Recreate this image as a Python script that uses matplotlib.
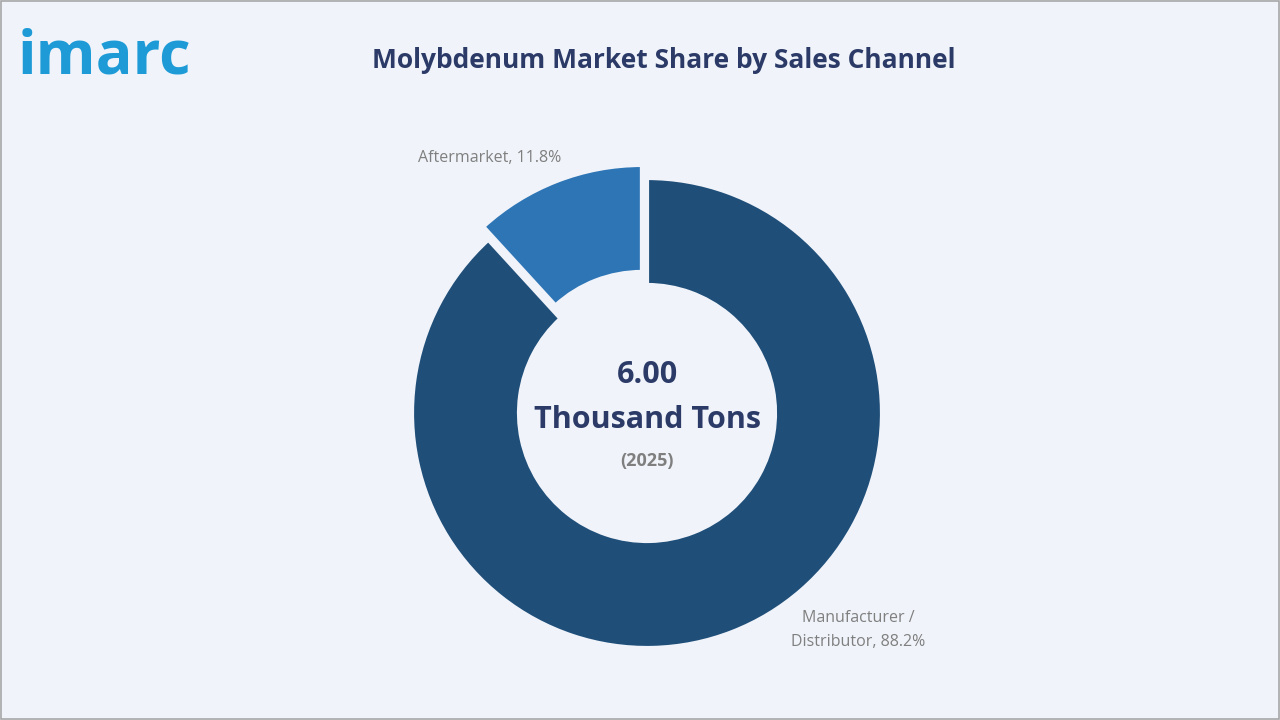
import matplotlib
matplotlib.use("Agg")
import matplotlib.pyplot as plt
from matplotlib.patches import Rectangle

channels = ["Manufacturer /\nDistributor", "Aftermarket"]
shares = [88.2, 11.8]
colors = ["#1F4E79", "#2E75B6"]
total_value = "6.00"
unit = "Thousand Tons"
year = "(2025)"

plt.rcParams["font.family"] = ["Open Sans", "DejaVu Sans"]

bg = "#F0F4FA"
fig = plt.figure(figsize=(12.8, 7.2), dpi=100)
fig.patch.set_facecolor(bg)
ax = fig.add_axes([0, 0, 1, 1])
ax.add_patch(Rectangle((1, 1), 1278, 718, fill=False, edgecolor="#A6A6A6", lw=1.2))

# pixel-space axes; explode offset is in data units (pixels here)
cx, cy = 647, 720 - 413
ax.pie(shares, colors=colors, startangle=90, counterclock=False,
       center=(cx, cy), radius=235, explode=[0, 14],
       wedgeprops=dict(width=107, edgecolor=bg, linewidth=3), frame=True)
ax.set_xlim(0, 1280)
ax.set_ylim(0, 720)
ax.set_aspect("equal")
ax.axis("off")

navy = "#2B3A67"
gray = "#7F7F7F"
ax.text(664, 720 - 60, "Molybdenum Market Share by Sales Channel", ha="center", va="center",
        fontsize=19, fontweight="bold", color=navy)
ax.text(18, 720 - 58, "imarc", ha="left", va="center", fontsize=44, fontweight="bold",
        color="#1E9BD7")

ax.text(cx, cy + 38, total_value, ha="center", va="center", fontsize=22, fontweight="bold", color=navy)
ax.text(cx, cy - 7, unit, ha="center", va="center", fontsize=22, fontweight="bold", color=navy)
ax.text(cx, cy - 48, year, ha="center", va="center", fontsize=13, fontweight="bold", color=gray)

ax.text(490, 720 - 158, f"{channels[1]}, {shares[1]}%", ha="center", va="center", fontsize=11.5, color=gray)
ax.text(858, 720 - 630, f"{channels[0]}, {shares[0]}%", ha="center", va="center",
        fontsize=11.5, color=gray, linespacing=1.6)

fig.savefig("out.png", dpi=100, facecolor=fig.get_facecolor())
